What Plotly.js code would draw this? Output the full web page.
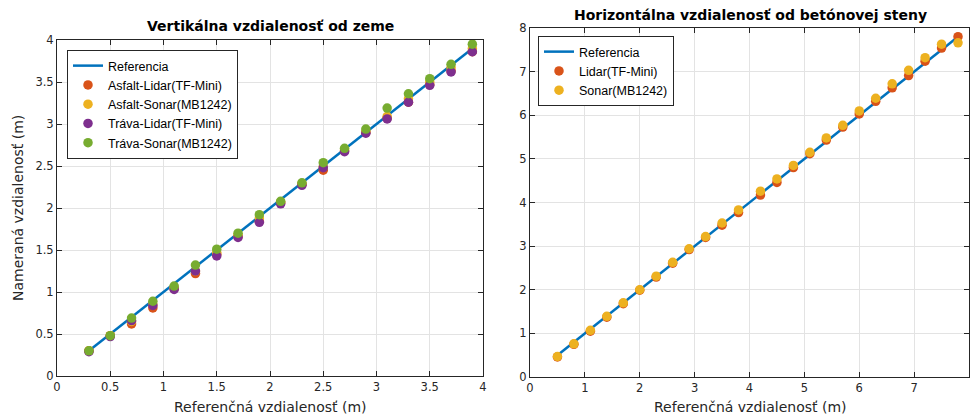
<!DOCTYPE html>
<html><head><meta charset="utf-8">
<script src="https://cdn.plot.ly/plotly-3.0.1.min.js"></script>
<style>html,body{margin:0;padding:0;background:#fff}#c{width:972px;height:416px}</style>
</head><body><div id="c"></div>
<script>
// Left chart: vertical distance
const vertRef = [0.3,0.5,0.7,0.9,1.1,1.3,1.5,1.7,1.9,2.1,2.3,2.5,2.7,2.9,3.1,3.3,3.5,3.7,3.9];
const asfaltLidar = [0.30,0.48,0.62,0.81,1.04,1.22,1.45,1.66,1.84,2.06,2.28,2.45,2.68,2.90,3.07,3.26,3.47,3.63,3.86];
const asfaltSonar = [0.30,0.48,0.65,0.85,1.05,1.25,1.47,1.68,1.88,2.07,2.29,2.49,2.69,2.91,3.09,3.30,3.50,3.67,3.90];
const travaLidar  = [0.29,0.47,0.66,0.84,1.03,1.25,1.43,1.65,1.83,2.05,2.27,2.48,2.67,2.89,3.06,3.26,3.46,3.62,3.86];
const travaSonar  = [0.30,0.48,0.69,0.89,1.07,1.32,1.51,1.70,1.92,2.08,2.30,2.54,2.71,2.94,3.19,3.36,3.54,3.71,3.95];
// Right chart: horizontal distance
const horRef = [0.5,0.8,1.1,1.4,1.7,2.0,2.3,2.6,2.9,3.2,3.5,3.8,4.2,4.5,4.8,5.1,5.4,5.7,6.0,6.3,6.6,6.9,7.2,7.5,7.8];
const horLidar = [0.46,0.75,1.05,1.37,1.68,1.99,2.29,2.61,2.92,3.20,3.48,3.77,4.17,4.46,4.80,5.12,5.43,5.73,6.03,6.32,6.63,6.91,7.24,7.54,7.80];
const horSonar = [0.47,0.76,1.07,1.39,1.70,2.00,2.31,2.63,2.94,3.22,3.53,3.83,4.26,4.54,4.85,5.15,5.48,5.77,6.10,6.39,6.72,7.03,7.32,7.63,7.66];

const labels = {
  leftTitle: 'Vertikálna vzdialenosť od zeme',
  rightTitle: 'Horizontálna vzdialenosť od betónovej steny',
  xTitle: 'Referenčná vzdialenosť (m)',
  yTitle: 'Nameraná vzdialenosť (m)'
};

const C = {blue:'#0072BD', orange:'#D95319', yellow:'#EDB120', purple:'#7E2F8E', green:'#77AC30'};
const mk = (c) => ({color:c, size:9.5, symbol:'circle', line:{width:0}});

const traces = [
  {x:[vertRef[0], vertRef[vertRef.length-1]], y:[vertRef[0], vertRef[vertRef.length-1]], mode:'lines', name:'Referencia', line:{color:C.blue, width:2.5}, xaxis:'x', yaxis:'y', legend:'legend'},
  {x:vertRef, y:asfaltLidar, mode:'markers', name:'Asfalt-Lidar(TF-Mini)', marker:mk(C.orange), xaxis:'x', yaxis:'y', legend:'legend'},
  {x:vertRef, y:asfaltSonar, mode:'markers', name:'Asfalt-Sonar(MB1242)', marker:mk(C.yellow), xaxis:'x', yaxis:'y', legend:'legend'},
  {x:vertRef, y:travaLidar, mode:'markers', name:'Tráva-Lidar(TF-Mini)', marker:mk(C.purple), xaxis:'x', yaxis:'y', legend:'legend'},
  {x:vertRef, y:travaSonar, mode:'markers', name:'Tráva-Sonar(MB1242)', marker:mk(C.green), xaxis:'x', yaxis:'y', legend:'legend'},
  {x:[horRef[0], horRef[horRef.length-1]], y:[horRef[0], horRef[horRef.length-1]], mode:'lines', name:'Referencia', line:{color:C.blue, width:2.5}, xaxis:'x2', yaxis:'y2', legend:'legend2'},
  {x:horRef, y:horLidar, mode:'markers', name:'Lidar(TF-Mini)', marker:mk(C.orange), xaxis:'x2', yaxis:'y2', legend:'legend2'},
  {x:horRef, y:horSonar, mode:'markers', name:'Sonar(MB1242)', marker:mk(C.yellow), xaxis:'x2', yaxis:'y2', legend:'legend2'}
];

const W = 972, H = 416;
const tickFont = {family:'DejaVu Sans', size:11.5, color:'#262626'};
const ax = (range, dtick, domain, anchor) => ({
  range, dtick, domain, anchor, tick0:0,
  showgrid:true, gridcolor:'#e3e3e3', gridwidth:1,
  zeroline:false, showline:true, linecolor:'#262626', linewidth:1, mirror:'ticks',
  ticks:'inside', ticklen:5, tickcolor:'#262626', tickfont:tickFont, fixedrange:true
});

const legendBase = {
  bgcolor:'#ffffff', bordercolor:'#262626', borderwidth:1,
  font:{family:'Liberation Sans', size:12.5, color:'#000'},
  xanchor:'left', yanchor:'top', tracegroupgap:0, itemwidth:30
};

const layout = {
  width:W, height:H,
  margin:{l:0, r:0, t:0, b:0},
  paper_bgcolor:'#fff', plot_bgcolor:'#fff',
  showlegend:true,
  xaxis: ax([0,4], 0.5, [57/W, 483/W], 'y'),
  yaxis: ax([0,4], 0.5, [1-376/H, 1-40/H], 'x'),
  xaxis2: ax([0,8], 1, [530/W, 969/W], 'y2'),
  yaxis2: ax([0,8], 1, [1-377/H, 1-28/H], 'x2'),
  legend: Object.assign({}, legendBase, {x:67/W, y:1-50/H, xref:'paper', yref:'paper'}),
  legend2: Object.assign({}, legendBase, {x:538/W, y:1-36/H, xref:'paper', yref:'paper'}),
  annotations: [
    {text:'<b>'+labels.leftTitle+'</b>', x:270/W, y:1-26/H, xref:'paper', yref:'paper', showarrow:false, xanchor:'center', yanchor:'middle', font:{family:'DejaVu Sans', size:14, color:'#000'}},
    {text:'<b>'+labels.rightTitle+'</b>', x:750/W, y:1-15/H, xref:'paper', yref:'paper', showarrow:false, xanchor:'center', yanchor:'middle', font:{family:'DejaVu Sans', size:14, color:'#000'}},
    {text:labels.xTitle, x:270/W, y:1-407/H, xref:'paper', yref:'paper', showarrow:false, xanchor:'center', yanchor:'middle', font:{family:'DejaVu Sans', size:14, color:'#262626'}},
    {text:labels.xTitle, x:750/W, y:1-407/H, xref:'paper', yref:'paper', showarrow:false, xanchor:'center', yanchor:'middle', font:{family:'DejaVu Sans', size:14, color:'#262626'}},
    {text:labels.yTitle, x:18/W, y:1-208/H, xref:'paper', yref:'paper', showarrow:false, textangle:-90, xanchor:'center', yanchor:'middle', font:{family:'DejaVu Sans', size:14, color:'#262626'}}
  ]
};

Plotly.newPlot('c', traces, layout, {displayModeBar:false, staticPlot:true});
</script></body></html>
